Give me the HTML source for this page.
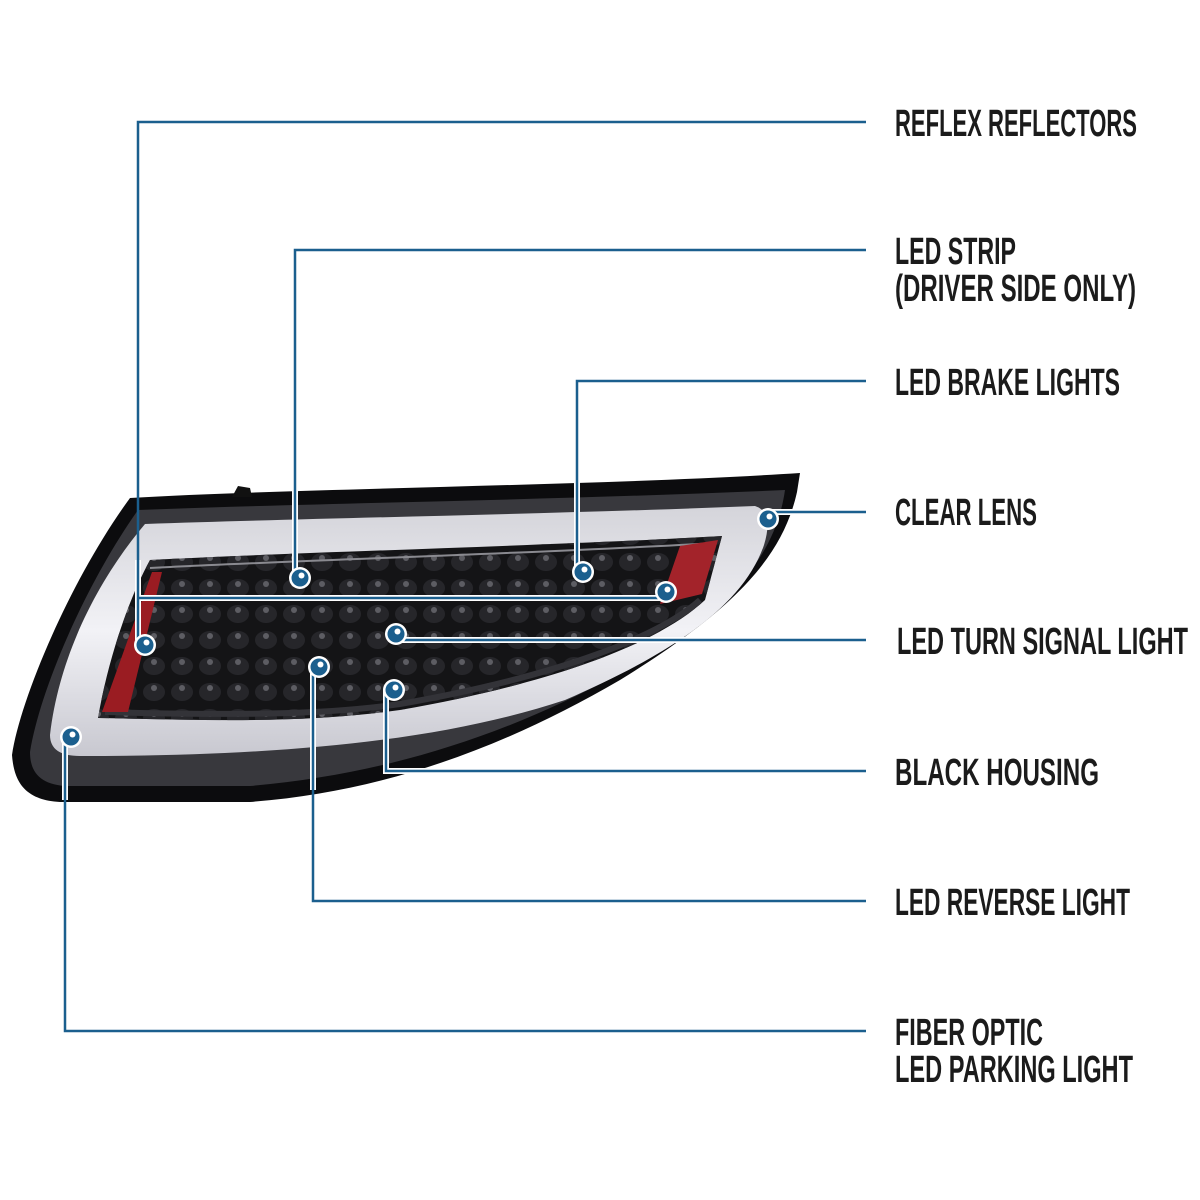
<!DOCTYPE html>
<html><head><meta charset="utf-8"><style>
html,body{margin:0;padding:0;background:#fff;}
svg{display:block;}
text{font-family:"Liberation Sans Narrow","Liberation Sans",sans-serif;font-size:38px;font-weight:bold;fill:#1b1b1b;}
</style></head><body>
<svg width="1200" height="1200" viewBox="0 0 1200 1200" xmlns="http://www.w3.org/2000/svg">
<defs>
<linearGradient id="band" x1="0" y1="0" x2="0" y2="1">
<stop offset="0" stop-color="#d4d4da"/><stop offset="0.5" stop-color="#f2f2f6"/><stop offset="1" stop-color="#c8c8d0"/>
</linearGradient>
<pattern id="leds" x="0" y="0" width="28" height="26" patternUnits="userSpaceOnUse">
<ellipse cx="14" cy="16" rx="11" ry="9" fill="#29292d"/>
<circle cx="14" cy="12" r="3" fill="#6a6a70"/>
</pattern>
<g id="dot"><circle r="11" fill="#fff"/><circle r="8.5" fill="#1b5f8e"/><circle cx="1.5" cy="-2.5" r="3" fill="#fff"/></g>
</defs>

<!-- housing -->
<path d="M130,498 C300,488 600,486 800,473 L797,492 C782,560 730,612 620,680 C500,750 380,792 250,802 L60,802 C25,800 14,782 12,755 C20,700 70,580 130,498 Z" fill="#0c0c0e"/>
<path d="M232,497 L238,486 L250,488 L252,497 Z" fill="#111"/>
<!-- grey rim -->
<path d="M138,510 C320,503 560,500 785,490 C775,560 725,615 615,676 C500,738 380,775 250,786 L65,786 C38,784 30,770 30,752 C40,690 85,585 138,510 Z" fill="#38383d"/>
<!-- white light band -->
<path d="M145,524 C320,518 560,514 755,506 Q774,512 764,545 C745,600 685,648 565,700 C450,738 300,756 80,756 Q50,756 50,735 C60,650 102,575 145,524 Z" fill="url(#band)"/>
<!-- inner panel -->
<path d="M150,560 C300,552 550,546 722,536 L705,600 C660,642 560,682 400,710 C300,724 200,720 98,718 C108,660 128,600 150,560 Z" fill="#141416"/>
<path d="M150,560 C300,552 550,546 722,536 L705,600 C660,642 560,682 400,710 C300,724 200,720 98,718 C108,660 128,600 150,560 Z" fill="url(#leds)" opacity="0.85"/>
<path d="M150,568 C300,560 550,553 715,543" stroke="#8a8a90" stroke-width="2" fill="none"/>
<path d="M105,712 C250,716 330,714 400,704 C560,676 660,636 700,600" stroke="#333338" stroke-width="6" fill="none"/>
<!-- reflectors -->
<path d="M152,572 L162,572 L128,712 L102,712 Z" fill="#9a1c22"/>
<path d="M680,546 L718,540 L702,594 L660,604 Z" fill="#a3232a"/>

<!-- connectors -->
<g fill="none" stroke="#fff" stroke-width="6">
<path d="M138,598 L660,598"/>
<path d="M138,560 L138,640"/>
<path d="M396,640 L866,640" />
<path d="M386,690 L386,771 L460,771"/>
<path d="M313,667 L313,790"/>
<path d="M65,737 L65,800"/>
<path d="M295,490 L295,578"/>
<path d="M577,480 L577,572"/>
<path d="M768,512 L800,512"/>
</g>
<g fill="none" stroke="#1b5f8e" stroke-width="2.5">
<path d="M866,122 L138,122 L138,640"/>
<path d="M138,598 L660,598"/>
<path d="M866,250 L295,250 L295,578"/>
<path d="M866,381 L577,381 L577,572"/>
<path d="M866,512 L768,512"/>
<path d="M866,640 L396,640"/>
<path d="M394,690 L386,690 L386,771 L866,771"/>
<path d="M319,667 L313,667 L313,901 L866,901"/>
<path d="M71,737 L65,737 L65,1031 L866,1031"/>
</g>
<use href="#dot" x="145" y="645"/>
<use href="#dot" x="300" y="578"/>
<use href="#dot" x="583" y="572"/>
<use href="#dot" x="666" y="592"/>
<use href="#dot" x="768" y="519"/>
<use href="#dot" x="396" y="634"/>
<use href="#dot" x="319" y="667"/>
<use href="#dot" x="394" y="690"/>
<use href="#dot" x="71" y="737"/>

<!-- labels -->
<text x="895" y="136" textLength="242" lengthAdjust="spacingAndGlyphs">REFLEX REFLECTORS</text>
<text x="895" y="264" textLength="121" lengthAdjust="spacingAndGlyphs">LED STRIP</text>
<text x="895" y="301" textLength="241" lengthAdjust="spacingAndGlyphs">(DRIVER SIDE ONLY)</text>
<text x="895" y="395" textLength="225" lengthAdjust="spacingAndGlyphs">LED BRAKE LIGHTS</text>
<text x="895" y="525" textLength="142" lengthAdjust="spacingAndGlyphs">CLEAR LENS</text>
<text x="897" y="654" textLength="291" lengthAdjust="spacingAndGlyphs">LED TURN SIGNAL LIGHT</text>
<text x="895" y="785" textLength="204" lengthAdjust="spacingAndGlyphs">BLACK HOUSING</text>
<text x="895" y="915" textLength="235" lengthAdjust="spacingAndGlyphs">LED REVERSE LIGHT</text>
<text x="895" y="1045" textLength="148" lengthAdjust="spacingAndGlyphs">FIBER OPTIC</text>
<text x="895" y="1082" textLength="238" lengthAdjust="spacingAndGlyphs">LED PARKING LIGHT</text>
</svg>
</body></html>
